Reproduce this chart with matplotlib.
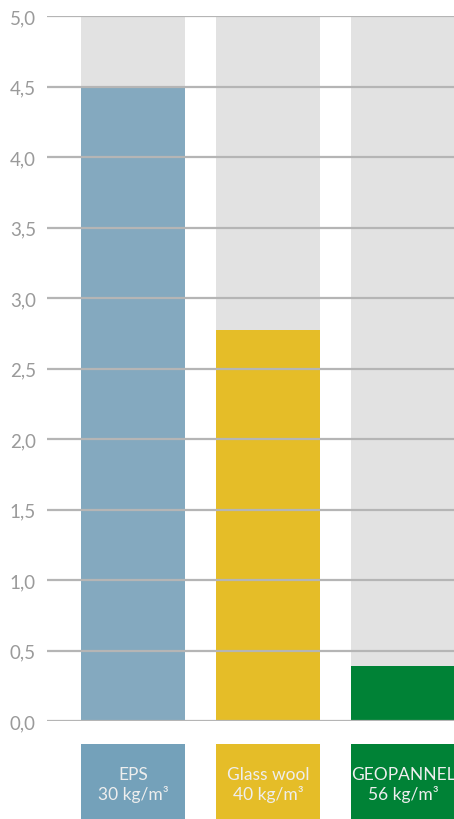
import matplotlib.pyplot as plt

materials = ["EPS\n30 kg/m³", "Glass wool\n40 kg/m³", "GEOPANNEL\n56 kg/m³"]
values = [4.5, 2.77, 0.39]
bar_colors = ["#84A9BF", "#E5BD28", "#008236"]
box_colors = ["#74A1BA", "#E5BD28", "#008236"]
yticks = [0.0, 0.5, 1.0, 1.5, 2.0, 2.5, 3.0, 3.5, 4.0, 4.5, 5.0]
ymax = 5.0

plt.rcParams['font.family'] = ['Lato', 'DejaVu Sans']

W, H = 454, 820
fig = plt.figure(figsize=(W / 100, H / 100), dpi=100)

ax = fig.add_axes([47 / W, (H - 722) / H, (W - 47) / W, 705 / H])
x = list(range(len(values)))
ax.bar(x, [ymax] * len(values), width=0.77, color="#E2E2E2", zorder=1)
ax.bar(x, values, width=0.77, color=bar_colors, zorder=2)
ax.set_xlim(-0.637, 2.378)
ax.set_ylim(0, ymax)
ax.set_yticks(yticks)
ax.set_yticklabels([f"{t:.1f}".replace(".", ",") for t in yticks],
                   color="#9A9A9A", fontsize=13.5)
ax.set_xticks([])
ax.tick_params(axis="y", length=0, pad=8)
ax.yaxis.grid(True, color="#B5B5B5", linewidth=1.6, zorder=3)
ax.set_axisbelow(False)
for s in ax.spines.values():
    s.set_visible(False)

# label boxes below
lab = fig.add_axes([47 / W, 0, (W - 47) / W, 75 / H])
lab.bar(x, [1] * len(values), width=0.77, color=box_colors)
lab.set_xlim(-0.637, 2.378)
lab.set_ylim(0, 1)
lab.axis("off")
for i, m in enumerate(materials):
    lab.text(i, 0.47, m, ha="center", va="center", color="#EEEEEE",
             fontsize=12.5, linespacing=1.2)

fig.savefig("out.png", dpi=100)
